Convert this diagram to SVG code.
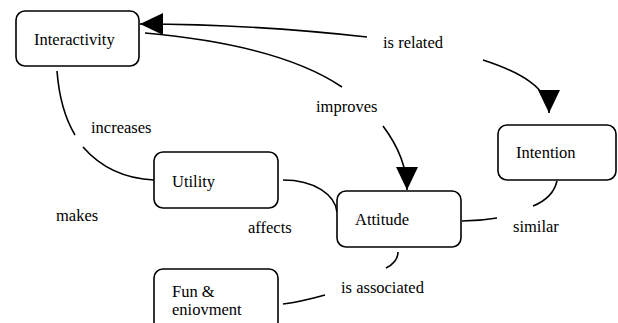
<svg xmlns="http://www.w3.org/2000/svg" width="618" height="323" viewBox="0 0 618 323">
<style>
.box{fill:#fff;stroke:#000;stroke-width:1.6}
.t{font-family:'Liberation Serif','Times New Roman','DejaVu Serif',serif;font-size:16.5px;fill:#000}
.c{fill:none;stroke:#000;stroke-width:1.6}
</style>
<defs>
<marker id="ah" markerUnits="userSpaceOnUse" markerWidth="24" markerHeight="22" refX="23" refY="11" orient="auto" viewBox="0 0 24 22">
<path d="M0,0 L23,11 L0,22 Z" fill="#000"/>
</marker>
</defs>
<rect width="618" height="323" fill="#fff"/>
<g id="connectors">
<path class="c" d="M367,37 Q250,24 140,24" marker-end="url(#ah)"/>
<path class="c" d="M483,60 C520,72 549,88 549,113" marker-end="url(#ah)"/>
<path class="c" d="M145,33 Q280,45 342,87"/>
<path class="c" d="M383,126 C395,142 407,165 407,190" marker-end="url(#ah)"/>
<path class="c" d="M57,71 Q60,110 75,135"/>
<path class="c" d="M83,147 Q110,178 154,180"/>
<path class="c" d="M283,180 C315,180 335,195 337,212"/>
<path class="c" d="M462,221 Q480,221 497,218"/>
<path class="c" d="M557,181 Q553,198 533,206"/>
<path class="c" d="M398,252 Q398,262 386,268"/>
<path class="c" d="M325,295 Q300,302 283,304"/>
<text class="t" font-family="Liberation Serif, serif" x="383" y="48">is related</text>
<text class="t" font-family="Liberation Serif, serif" x="316" y="112">improves</text>
<text class="t" font-family="Liberation Serif, serif" x="91" y="133">increases</text>
<text class="t" font-family="Liberation Serif, serif" x="56" y="221">makes</text>
<text class="t" font-family="Liberation Serif, serif" x="248" y="233">affects</text>
<text class="t" font-family="Liberation Serif, serif" x="513" y="232">similar</text>
<text class="t" font-family="Liberation Serif, serif" x="341" y="293">is associated</text>
</g>
<g id="interactivity">
<rect class="box" x="16" y="11" width="123" height="55" rx="9"/>
<text class="t" font-family="Liberation Serif, serif" x="34" y="45">Interactivity</text>
</g>
<g id="intention">
<rect class="box" x="498" y="125" width="118" height="55" rx="9"/>
<text class="t" font-family="Liberation Serif, serif" x="516" y="158">Intention</text>
</g>
<g id="utility">
<rect class="box" x="154" y="152" width="124" height="56" rx="9"/>
<text class="t" font-family="Liberation Serif, serif" x="172" y="187">Utility</text>
</g>
<g id="attitude">
<rect class="box" x="337" y="191" width="124" height="56" rx="9"/>
<text class="t" font-family="Liberation Serif, serif" x="355" y="225">Attitude</text>
</g>
<g id="fun">
<rect class="box" x="154" y="269" width="124" height="62" rx="9"/>
<text class="t" font-family="Liberation Serif, serif" x="172" y="297">Fun &amp;</text>
<text class="t" font-family="Liberation Serif, serif" x="172" y="315">eniovment</text>
</g>
</svg>
